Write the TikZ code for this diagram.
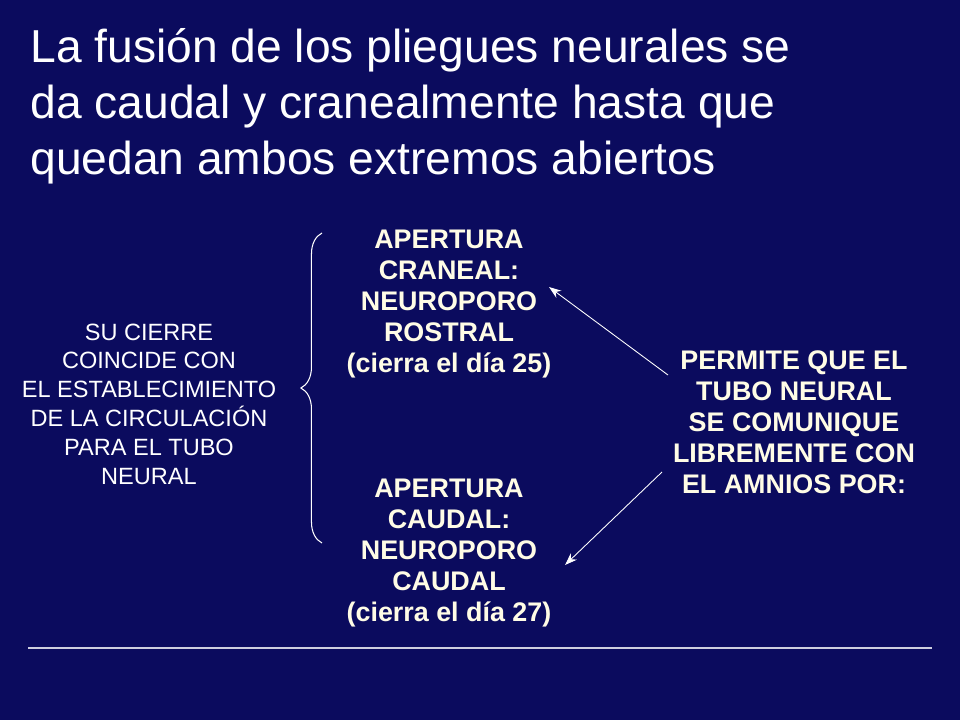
\documentclass[tikz,border=0pt]{standalone}
\usepackage{fontspec}
\setmainfont{Liberation Sans}
\usetikzlibrary{decorations.pathreplacing,arrows.meta}
\definecolor{bg}{HTML}{0B0B5E}
\definecolor{cream}{HTML}{FFFCE6}
\begin{document}
\begin{tikzpicture}[x=0.02cm,y=-0.02cm,
  title/.style={anchor=north west,align=left,text=white,font=\fontsize{26.3}{31.8}\selectfont,inner sep=0},
  bold/.style={align=center,text=cream,font=\fontsize{15.3}{17.6}\selectfont\bfseries,inner sep=0},
  plain/.style={align=center,text=white,font=\fontsize{13.4}{16.4}\selectfont,inner sep=0},
  conn/.style={draw=white,line width=0.5pt,-{Stealth[length=7pt,width=5pt]}}]
\fill[bg] (0,0) rectangle (960,720);
\node[title] (t) at (30,28) {La fusión de los pliegues neurales se\\da caudal y cranealmente hasta que\\quedan ambos extremos abiertos};
\node[bold] (top) at (449,304) {APERTURA\\CRANEAL:\\NEUROPORO\\ROSTRAL\\(cierra el día 25)};
\node[bold] (bot) at (449,553) {APERTURA\\CAUDAL:\\NEUROPORO\\CAUDAL\\(cierra el día 27)};
\node[bold] (right) at (794,422) {PERMITE QUE EL\\TUBO NEURAL\\SE COMUNIQUE\\LIBREMENTE CON\\EL AMNIOS POR:};
\node[plain] (left) at (149,404) {SU CIERRE\\COINCIDE CON\\EL ESTABLECIMIENTO\\DE LA CIRCULACIÓN\\PARA EL TUBO\\NEURAL};
\coordinate (b1) at (322,543);
\coordinate (b2) at (322,233);
\draw[white,line width=0.6pt,decorate,decoration={brace,amplitude=12pt}] (b1) -- (b2);
\coordinate (a1) at (668,375);
\coordinate (a2) at (549,287);
\coordinate (c1) at (662,472);
\coordinate (c2) at (565,565);
\draw[conn] (a1) -- (a2);
\draw[conn] (c1) -- (c2);
\coordinate (l1) at (28,648);
\coordinate (l2) at (932,648);
\draw[white!80!bg,line width=0.6pt] (l1) -- (l2);
\end{tikzpicture}
\end{document}
